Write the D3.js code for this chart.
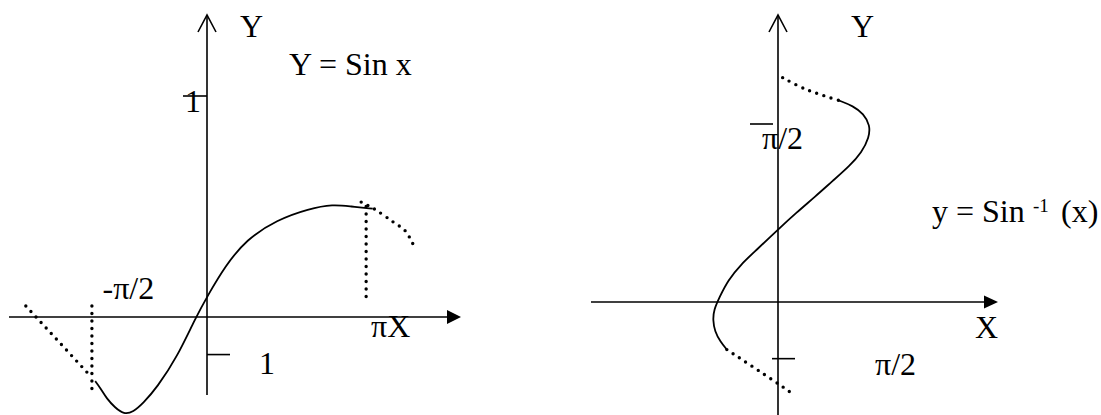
<!DOCTYPE html>
<html>
<head>
<meta charset="utf-8">
<script src="https://cdn.jsdelivr.net/npm/d3@7"></script>
<style>
  html, body { margin: 0; padding: 0; background: #fff; }
  svg { display: block; }
  text { font-family: "Liberation Serif", "Times New Roman", Times, serif; fill: #000; }
</style>
</head>
<body>
<svg id="chart" width="1101" height="415"></svg>
<script>
// ---- Left sketch: Y = Sin x (x in radians, y in sine units) ----
const sinCurve = [
  [-2.03, -0.29], [-1.94, -0.32], [-1.82, -0.37], [-1.67, -0.41], [-1.51, -0.44],
  [-1.34, -0.43], [-1.16, -0.39], [-0.91, -0.32], [-0.54, -0.18], [-0.22, -0.01],
  [0.02, 0.10], [0.33, 0.23], [0.71, 0.35], [1.27, 0.44], [1.85, 0.49],
  [2.29, 0.51], [2.61, 0.50], [3.01, 0.49]
];
const sinDotsLeftSlope = [[-3.29, 0.05], [-2.18, -0.25]];
const sinDotsLeftDrop  = [[-2.09, 0.05], [-2.09, -0.33]];
const sinDotsRightDrop = [[2.89, 0.50], [2.89, 0.08]];
const sinDotsRightTail = [[2.80, 0.52], [3.03, 0.49], [3.38, 0.43], [3.60, 0.39], [3.74, 0.33]];
const sinYTickValues = [1, -0.17];
const sinYTickLabels = ["1", "1"];
const sinXTickValues = [-Math.PI / 2, Math.PI];
const sinXTickLabels = ["-\u03c0/2", "\u03c0X"];

// ---- Right sketch: y = Sin^-1 (x) (x in sine units, y in radians) ----
const asinCurve = [
  [0.65, 1.78], [0.81, 1.73], [0.92, 1.66], [0.99, 1.56], [0.98, 1.45],
  [0.90, 1.32], [0.77, 1.20], [0.59, 1.07], [0.40, 0.93], [0.20, 0.79],
  [0.00, 0.64], [-0.23, 0.46], [-0.39, 0.34], [-0.54, 0.19], [-0.63, 0.04],
  [-0.69, -0.07], [-0.70, -0.16], [-0.68, -0.26], [-0.62, -0.35], [-0.55, -0.42]
];
const asinDotsTop    = [[0.05, 1.98], [0.29, 1.88], [0.65, 1.78]];
const asinDotsBottom = [[-0.55, -0.42], [0.00, -0.72], [0.14, -0.80]];
const asinYTickValues = [Math.PI / 2, -0.50];
const asinYTickLabels = ["\u03c0/2", "\u03c0/2"];

const svg = d3.select("#chart");

const xL = d3.scaleLinear().domain([0, Math.PI]).range([207, 380]);
const yL = d3.scaleLinear().domain([0, 1]).range([317, 96]);
const xR = d3.scaleLinear().domain([0, 1]).range([778, 871]);
const yR = d3.scaleLinear().domain([0, Math.PI / 2]).range([302, 124]);

const ink = "#000";
const FONT = 32;

function solid(g, pts, xs, ys) {
  const line = d3.line().x(d => xs(d[0])).y(d => ys(d[1])).curve(d3.curveBasis);
  g.append("path").attr("d", line(pts)).attr("fill", "none")
    .attr("stroke", ink).attr("stroke-width", 1.8).attr("stroke-linejoin", "round");
}
function dotted(g, pts, xs, ys) {
  const line = d3.line().x(d => xs(d[0])).y(d => ys(d[1])).curve(d3.curveCatmullRom.alpha(0.5));
  g.append("path").attr("d", line(pts)).attr("fill", "none")
    .attr("stroke", ink).attr("stroke-width", 3.4)
    .attr("stroke-linecap", "round").attr("stroke-dasharray", "0 7.5");
}
function seg(g, x1, y1, x2, y2, w) {
  g.append("line").attr("x1", x1).attr("y1", y1).attr("x2", x2).attr("y2", y2)
    .attr("stroke", ink).attr("stroke-width", w || 1.6);
}
function openArrowUp(g, x, y) {
  g.append("path").attr("d", `M${x - 9},${y + 17} L${x},${y} L${x + 9},${y + 17}`)
    .attr("fill", "none").attr("stroke", ink).attr("stroke-width", 1.6);
}
function filledArrowRight(g, x, y, len, half) {
  g.append("path").attr("d", `M${x},${y} L${x - len},${y - half} L${x - len},${y + half} Z`).attr("fill", ink);
}
function label(g, x, y, s, size) {
  return g.append("text").attr("x", x).attr("y", y).attr("font-size", size || FONT).text(s);
}

// ---------- Left panel ----------
const gl = svg.append("g");
const oxL = xL(0), oyL = yL(0);
seg(gl, 9, oyL, 450, oyL);
filledArrowRight(gl, 461, oyL, 14, 7);
seg(gl, oxL, 15, oxL, 395);
openArrowUp(gl, oxL, 15);
label(gl, 240, 37, "Y");
label(gl, 289, 75, "Y = Sin x");

// y ticks: upper on the left of the axis, lower on the right
sinYTickValues.forEach((v, i) => {
  const y = yL(v);
  if (i === 0) {
    seg(gl, oxL - 24, y, oxL, y);
    label(gl, oxL - 22, y + 16, sinYTickLabels[i]);
  } else {
    seg(gl, oxL, y, oxL + 23, y);
    label(gl, oxL + 52, y + 19, sinYTickLabels[i]);
  }
});
// x labels
label(gl, xL(sinXTickValues[0]) - 18, 299, sinXTickLabels[0]);
label(gl, xL(sinXTickValues[1]) - 9, 337, sinXTickLabels[1]);

solid(gl, sinCurve, xL, yL);
dotted(gl, sinDotsLeftSlope, xL, yL);
dotted(gl, sinDotsLeftDrop, xL, yL);
dotted(gl, sinDotsRightDrop, xL, yL);
dotted(gl, sinDotsRightTail, xL, yL);

// ---------- Right panel ----------
const gr = svg.append("g");
const oxR = xR(0), oyR = yR(0);
seg(gr, 591, oyR, 985, oyR);
filledArrowRight(gr, 998, oyR, 14, 6.5);
seg(gr, oxR, 15, oxR, 415);
openArrowUp(gr, oxR, 15);
label(gr, 851, 37, "Y");
label(gr, 975, 338, "X");

asinYTickValues.forEach((v, i) => {
  const y = yR(v);
  if (i === 0) {
    seg(gr, oxR - 28, y, oxR - 5, y);
    label(gr, oxR - 16, y + 25, asinYTickLabels[i]);
  } else {
    seg(gr, oxR - 6, y, oxR + 17, y);
    label(gr, oxR + 97, y + 16, asinYTickLabels[i]);
  }
});

// y = Sin^-1 (x) caption with a raised exponent
const cap = gr.append("text").attr("x", 932).attr("y", 222).attr("font-size", FONT);
cap.append("tspan").text("y = Sin");
cap.append("tspan").attr("x", 1033).attr("dy", -10).attr("font-size", 19).text("-1");
cap.append("tspan").attr("x", 1061).attr("dy", 10).attr("font-size", FONT).text("(x)");

solid(gr, asinCurve, xR, yR);
dotted(gr, asinDotsTop, xR, yR);
dotted(gr, asinDotsBottom, xR, yR);
</script>
</body>
</html>
